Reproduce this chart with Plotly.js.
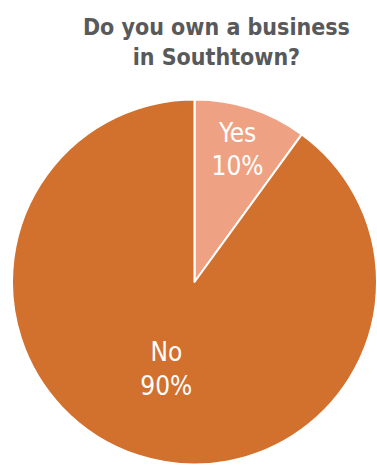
<!DOCTYPE html>
<html>
<head>
<meta charset="utf-8">
<script src="https://cdn.plot.ly/plotly-3.0.1.min.js"></script>
<style>html,body{margin:0;padding:0;background:#fff;}#chart{width:377px;height:465px;}</style>
</head>
<body>
<div id="chart"></div>
<script>
var labels = ["Yes", "No"];
var values = [10, 90];
var colors = ["#EFA283", "#D2702D"];

var trace = {
  type: "pie",
  labels: labels,
  values: values,
  sort: false,
  direction: "clockwise",
  rotation: 0,
  marker: {colors: colors, line: {color: "#ffffff", width: 2}},
  textinfo: "label+percent",
  texttemplate: "%{label}<br>%{percent:.0%}",
  textposition: "inside",
  insidetextorientation: "horizontal",
  textfont: {family: "DejaVu Sans Condensed, DejaVu Sans", stretch: "condensed", size: 26, color: "#ffffff"},
  hoverinfo: "none",
  domain: {x: [12/377, 1], y: [0, 366/465]}
};

var layout = {
  width: 377,
  height: 465,
  margin: {l: 0, r: 0, t: 0, b: 0},
  showlegend: false,
  paper_bgcolor: "#ffffff",
  title: {
    text: "<b>Do you own a business<br>in Southtown?</b>",
    font: {family: "DejaVu Sans Condensed, DejaVu Sans", stretch: "condensed", size: 23, color: "#58595B"},
    x: 0.574,
    xanchor: "center",
    y: 0.925,
    yanchor: "top"
  }
};

Plotly.newPlot("chart", [trace], layout, {displayModeBar: false, staticPlot: true});
</script>
</body>
</html>
